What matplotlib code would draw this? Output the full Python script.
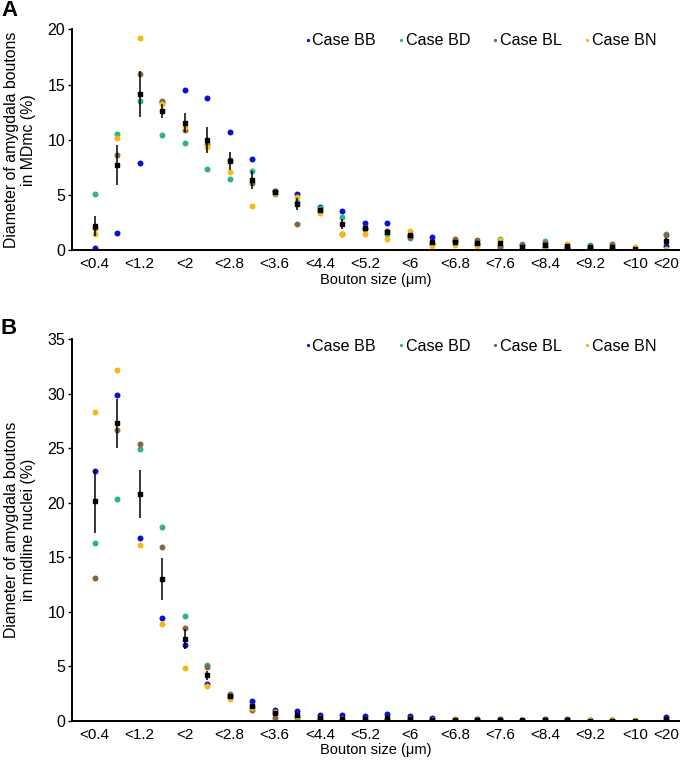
import numpy as np
import matplotlib
matplotlib.use("Agg")
import matplotlib.pyplot as plt

plt.rcParams['font.family'] = ['Liberation Sans', 'DejaVu Sans']

categories = ['<0.4', '<0.8', '<1.2', '<1.6', '<2', '<2.4', '<2.8', '<3.2', '<3.6', '<4',
              '<4.4', '<4.8', '<5.2', '<5.6', '<6', '<6.4', '<6.8', '<7.2', '<7.6', '<8',
              '<8.4', '<8.8', '<9.2', '<9.6', '<10', '<20']
shown_labels = ['<0.4', '<1.2', '<2', '<2.8', '<3.6', '<4.4', '<5.2', '<6', '<6.8',
                '<7.6', '<8.4', '<9.2', '<10', '<20']
cases = ['Case BB', 'Case BD', 'Case BL', 'Case BN']
colors = ['#0a12d0', '#2db584', '#8a6440', '#f6b912']

# panel A: MDmc
mdmc_bb = [0.2, 1.57, 7.9, 13.4, 14.47, 13.75, 10.7, 8.25, 5.38, 5.07, 3.95, 3.6, 2.45,
           2.45, 1.4, 1.2, 0.8, 0.55, 0.4, 0.1, 0.3, 0.25, 0.2, 0.1, 0.05, 0.4]
mdmc_bd = [5.1, 10.57, 13.5, 10.4, 9.7, 7.34, 6.43, 7.16, 5.1, 4.4, 3.8, 3.0, 1.95,
           1.5, 1.1, 0.7, 0.8, 0.7, 1.05, 0.55, 0.8, 0.3, 0.45, 0.3, 0.05, 1.5]
mdmc_bl = [2.0, 8.6, 16.0, 13.5, 10.85, 9.6, 8.13, 6.07, 5.35, 2.35, 3.6, 1.45, 2.05,
           1.7, 1.2, 0.6, 1.0, 0.95, 0.25, 0.5, 0.7, 0.3, 0.3, 0.6, 0.05, 1.36]
mdmc_bn = [1.45, 10.2, 19.25, 13.2, 11.2, 9.33, 7.13, 4.0, 5.2, 4.8, 3.35, 1.5, 1.5,
           1.0, 1.7, 0.4, 0.5, 0.35, 0.9, 0.05, 0.2, 0.55, 0.15, 0.2, 0.33, 0.15]

# panel B: midline nuclei
mid_bb = [22.9, 29.9, 16.8, 9.4, 7.0, 3.4, 2.3, 1.87, 1.0, 0.95, 0.55, 0.58, 0.45,
          0.65, 0.45, 0.3, 0.1, 0.2, 0.15, 0.1, 0.15, 0.2, 0.1, 0.05, 0.0, 0.35]
mid_bd = [16.3, 20.3, 24.9, 17.8, 9.62, 5.16, 2.2, 1.4, 0.75, 0.3, 0.2, 0.05, 0.1,
          0.2, 0.1, 0.05, 0.05, 0.0, 0.0, 0.0, 0.0, 0.0, 0.0, 0.0, 0.0, 0.1]
mid_bl = [13.1, 26.7, 25.4, 15.9, 8.5, 4.95, 2.5, 1.04, 0.25, 0.45, 0.2, 0.1, 0.05,
          0.1, 0.15, 0.1, 0.15, 0.05, 0.05, 0.1, 0.05, 0.05, 0.0, 0.05, 0.0, 0.1]
mid_bn = [28.3, 32.2, 16.1, 8.9, 4.9, 3.2, 2.05, 1.15, 0.85, 0.45, 0.3, 0.15, 0.1,
          0.15, 0.15, 0.1, 0.2, 0.1, 0.1, 0.05, 0.05, 0.05, 0.05, 0.05, 0.05, 0.1]

xpos = np.arange(len(categories), dtype=float)
xpos[-1] = 25.38


def draw_panel(ax, series, ymax, ystep, ylabel, leg_y):
    for vals, c, name in zip(series, colors, cases):
        ax.plot(xpos, vals, 'o', ms=4.3, color=c, mec='none', label=name, zorder=2)
    data = np.array(series)
    mean = data.mean(axis=0)
    sem = data.std(axis=0) / np.sqrt(data.shape[0])
    ax.errorbar(xpos, mean, yerr=sem, fmt='s', ms=2.6, color='black', ecolor='black',
                elinewidth=1.1, capsize=0, zorder=3)
    ax.set_xlim(-1, 26)
    ax.set_ylim(0, ymax)
    ax.set_yticks(np.arange(0, ymax + 0.1, ystep))
    ax.set_xticks([xpos[categories.index(l)] for l in shown_labels])
    ax.set_xticklabels(shown_labels)
    ax.tick_params(axis='x', length=0, pad=5, labelsize=11)
    ax.tick_params(axis='y', length=3, width=1, labelsize=11.5, pad=2)
    for s in ['top', 'right']:
        ax.spines[s].set_visible(False)
    for s in ['left', 'bottom']:
        ax.spines[s].set_linewidth(1.4)
    ax.set_xlabel('Bouton size (\u03bcm)', fontsize=10.5, labelpad=1)
    ax.set_ylabel(ylabel, fontsize=11.4, labelpad=8, linespacing=1.2)
    ax.legend(loc='upper right', bbox_to_anchor=(0.972, leg_y), ncol=4, frameon=False,
              handlelength=0.3, handletextpad=0.15, columnspacing=1.4, markerscale=0.55,
              fontsize=11.6, borderaxespad=0)


fig = plt.figure(figsize=(6.8, 7.63), dpi=100)
axA = fig.add_axes([0.106, 0.672, 0.894, 0.2895])
axB = fig.add_axes([0.106, 0.055, 0.894, 0.5007])

draw_panel(axA, [mdmc_bb, mdmc_bd, mdmc_bl, mdmc_bn], 20, 5,
           'Diameter of amygdala boutons\nin MDmc (%)', 1.011)
draw_panel(axB, [mid_bb, mid_bd, mid_bl, mid_bn], 35, 5,
           'Diameter of amygdala boutons\nin midline nuclei (%)', 1.017)

fig.text(1 / 680, 1 - 10 / 763, 'A', fontsize=16, fontweight='bold', ha='left', va='center')
fig.text(1 / 680, 1 - 328 / 763, 'B', fontsize=16, fontweight='bold', ha='left', va='center')

fig.savefig('out.png', dpi=100)
